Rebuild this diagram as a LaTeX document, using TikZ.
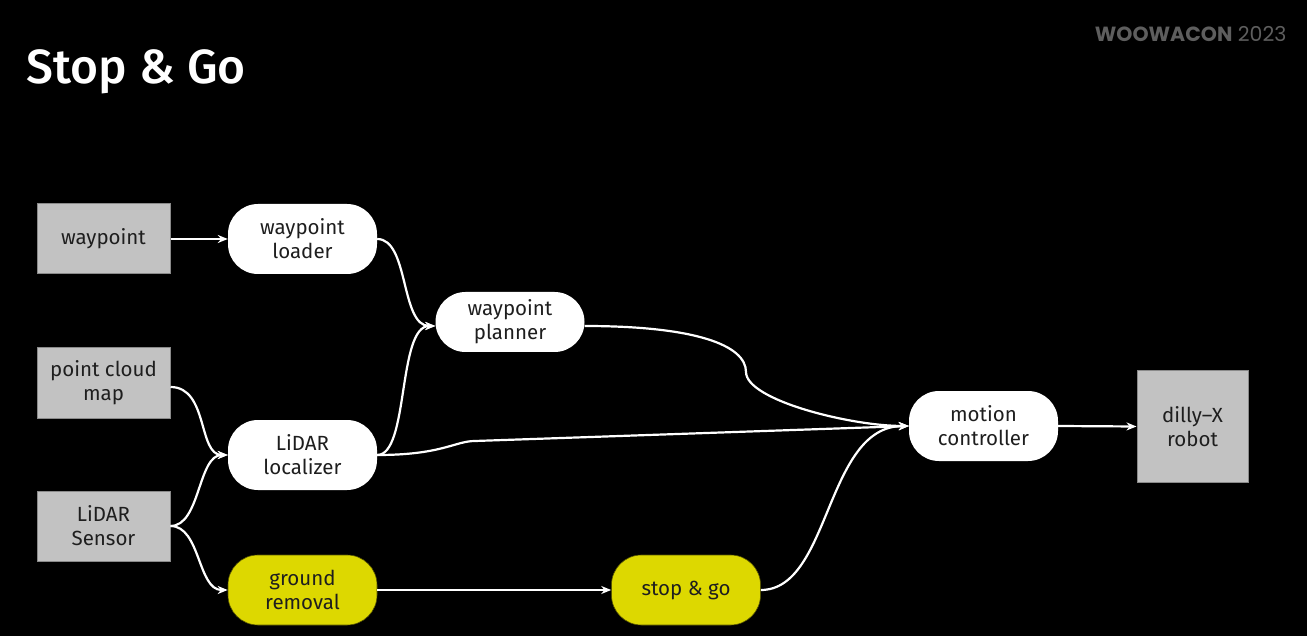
\documentclass[tikz,border=0pt]{standalone}
\usepackage{fontspec}
\setmainfont{Fira Sans}
\newfontfamily\titlefont{Fira Sans}[UprightFont={* Medium}]
\newfontfamily\brandfont{Poppins}
\usetikzlibrary{arrows.meta}
\definecolor{boxgrey}{HTML}{C2C2C2}
\definecolor{boxedge}{HTML}{8A8A8A}
\definecolor{pillyellow}{HTML}{DDD800}
\definecolor{brandgrey}{HTML}{5E5E5E}
\definecolor{txt}{HTML}{1E1E1E}
\tikzset{
  greybox/.style={draw=boxedge, line width=1pt, fill=boxgrey, text=txt, font=\fontsize{20.5}{24}\selectfont, align=center, inner sep=0pt},
  pill/.style={fill=white, rounded corners=30pt, text=txt, font=\fontsize{20.5}{24}\selectfont, align=center, inner sep=0pt, minimum width=149pt, minimum height=70pt},
  ypill/.style={pill, fill=pillyellow, draw=black!60!pillyellow, line width=0.6pt},
  conn/.style={draw=white, line width=2.2pt, -{Stealth[length=10pt,width=8pt]}}
}
\begin{document}
\begin{tikzpicture}[x=1pt,y=-1pt]
\fill[black] (0,0) rectangle (1307,636);
\useasboundingbox (0,0) rectangle (1307,636);
\node[anchor=west, text=white, font=\fontsize{48}{52}\selectfont\titlefont] (title) at (23,72) {Stop \& Go};
\node[anchor=east, text=brandgrey, font=\fontsize{20.5}{22}\selectfont\brandfont] (brand) at (1290,34) {\textbf{WOOWACON} 2023};

\node[greybox, minimum width=133pt, minimum height=70pt] (wp) at (103.5,239) {waypoint};
\node[greybox, minimum width=133pt, minimum height=70pt] (pcm) at (103.5,383) {point cloud\\map};
\node[greybox, minimum width=133pt, minimum height=70pt] (ls) at (103.5,526) {LiDAR\\Sensor};
\node[greybox, minimum width=111pt, minimum height=111pt] (robot) at (1192.5,426.5) {dilly–X\\robot};

\node[pill] (loader) at (302.5,239) {waypoint\\loader};
\node[pill, minimum height=60pt] (planner) at (510,322) {waypoint\\planner};
\node[pill] (loc) at (302.5,455) {LiDAR\\localizer};
\node[ypill] (ground) at (302.5,590) {ground\\removal};
\node[ypill] (sg) at (686,590) {stop \& go};
\node[pill] (motion) at (983.5,426) {motion\\controller};

\draw[conn] (wp.east) -- (loader.west);
\draw[conn] (loader.east) .. controls +(32,0) and +(-35,0) .. ([yshift=-4pt]planner.west);
\draw[conn] (loc.east) .. controls +(32,0) and +(-38,0) .. ([yshift=-4pt]planner.west);
\draw[conn] ([yshift=-4pt]pcm.east) .. controls +(38,0) and +(-30,0) .. (loc.west);
\draw[conn] (ls.east) .. controls +(30,0) and +(-30,0) .. (loc.west);
\draw[conn] (ls.east) .. controls +(30,0) and +(-30,0) .. (ground.west);
\draw[conn] (ground.east) -- (sg.west);
\coordinate (bend) at (746,372);
\coordinate (kink) at (475,441);
\draw[conn] ([yshift=-4pt]planner.east) .. controls +(110,0) and (746,345) .. (bend) .. controls (746,400) and (850,426) .. (motion.west);
\draw[conn] (loc.east) .. controls +(65,0) and (455,441) .. (kink) -- (motion.west);
\draw[conn] (sg.east) .. controls +(70,0) and (825,426) .. (motion.west);
\draw[conn] (motion.east) -- (robot.west);
\end{tikzpicture}
\end{document}
